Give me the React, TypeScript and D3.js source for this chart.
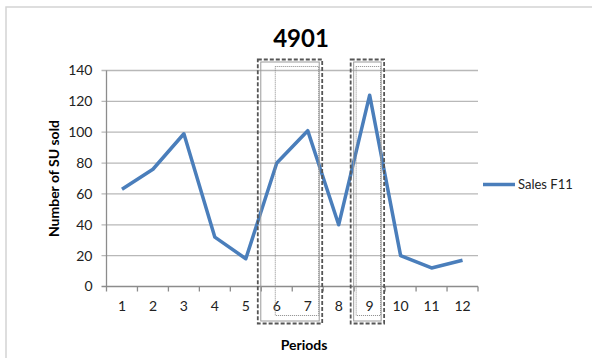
import { useMemo } from 'react';
import * as d3 from 'd3';

// chart data
const periods = ['1', '2', '3', '4', '5', '6', '7', '8', '9', '10', '11', '12'];
const salesF11 = [63, 76, 99, 32, 18, 80, 101, 40, 124, 20, 12, 17];
const yTicks = [0, 20, 40, 60, 80, 100, 120, 140];
const highlightGroups = [
	['6', '7'],
	['9'],
];

const W = 592;
const H = 358;
const FONT = 'Lato, "Open Sans", sans-serif';
const BLUE = '#4a7ebb';

export default function App() {
	const margin = { top: 70.5, right: 114, bottom: 71.5, left: 106.5 };
	const innerW = W - margin.left - margin.right;
	const innerH = H - margin.top - margin.bottom;

	const x = useMemo(() => d3.scaleBand<string>().domain(periods).range([0, innerW]).padding(0), [innerW]);
	const y = useMemo(() => d3.scaleLinear().domain([0, 140]).range([innerH, 0]), [innerH]);

	const points = periods.map((p, i) => ({ p, v: salesF11[i] }));
	const line = d3
		.line<{ p: string; v: number }>()
		.x((d) => (x(d.p) ?? 0) + x.bandwidth() / 2)
		.y((d) => y(d.v));

	// inset of the dotted inner frame from the left band edge, per box
	const dottedLeft = [14, 2];

	return (
		<svg width={W} height={H} style={{ position: 'absolute', left: 0, top: 0, background: '#fff' }}>
			{/* chart area border */}
			<rect x={6} y={7} width={W + 20} height={H + 20} fill="none" stroke="#d4d4d4" strokeWidth={1.5} />

			<text x={301} y={47} textAnchor="middle" fontFamily={FONT} fontWeight={700} fontSize={24} fill="#000">
				4901
			</text>

			<g transform={`translate(${margin.left},${margin.top})`}>
				{/* grid */}
				{yTicks.map((t) => (
					<g key={t}>
						<line x1={-5} x2={innerW} y1={y(t)} y2={y(t)} stroke={t === 0 ? '#8c8c8c' : '#b8b8b8'} strokeWidth={1.3} />
						<text x={-14} y={y(t)} dy="0.35em" textAnchor="end" fontFamily={FONT} fontSize={14} fill="#222">
							{t}
						</text>
					</g>
				))}
				<line x1={0} x2={0} y1={0} y2={innerH} stroke="#8c8c8c" strokeWidth={1.3} />

				{/* x ticks at band edges */}
				{periods.map((p) => (
					<line key={`t${p}`} x1={x(p) ?? 0} x2={x(p) ?? 0} y1={innerH} y2={innerH + 5} stroke="#8c8c8c" strokeWidth={1.3} />
				))}
				<line x1={innerW} x2={innerW} y1={innerH} y2={innerH + 5} stroke="#8c8c8c" strokeWidth={1.3} />
				{periods.map((p) => (
					<text
						key={`l${p}`}
						x={(x(p) ?? 0) + x.bandwidth() / 2}
						y={innerH + 20}
						dy="0.35em"
						textAnchor="middle"
						fontFamily={FONT}
						fontSize={14}
						fill="#222"
					>
						{p}
					</text>
				))}

				<path d={line(points) ?? ''} fill="none" stroke={BLUE} strokeWidth={3.5} strokeLinejoin="round" />

				{/* highlight boxes */}
				{highlightGroups.map((g, i) => {
					const x0 = x(g[0]) ?? 0;
					const x1 = (x(g[g.length - 1]) ?? 0) + x.bandwidth();
					return (
						<g key={`h${i}`} fill="none">
							<rect x={x0 - 3.5} y={-11} width={x1 - x0 + 2.5} height={264} stroke="#555" strokeWidth={1.8} strokeDasharray="4,2" />
							<rect x={x0 - 0.5} y={-8.5} width={x1 - x0 - 3.5} height={259} stroke="#9a9a9a" strokeWidth={1} />
							<rect
								x={x0 + dottedLeft[i]}
								y={-4}
								width={x1 - x0 - dottedLeft[i] - 4.5}
								height={249}
								stroke="#8a8a8a"
								strokeWidth={1}
								strokeDasharray="1,1"
							/>
						</g>
					);
				})}
			</g>

			<text
				transform={`translate(54,${margin.top + innerH / 2}) rotate(-90)`}
				textAnchor="middle"
				dy="0.35em"
				fontFamily={FONT}
				fontWeight={700}
				fontSize={14}
				fill="#000"
			>
				Number of SU sold
			</text>
			<text x={304} y={345} dy="0.35em" textAnchor="middle" fontFamily={FONT} fontWeight={700} fontSize={14} fill="#000">
				Periods
			</text>

			{/* legend */}
			<line x1={483} x2={515} y1={184.5} y2={184.5} stroke={BLUE} strokeWidth={3.5} />
			<text x={518} y={184.5} dy="0.35em" fontFamily={FONT} fontSize={13} fill="#222">
				Sales F11
			</text>
		</svg>
	);
}
